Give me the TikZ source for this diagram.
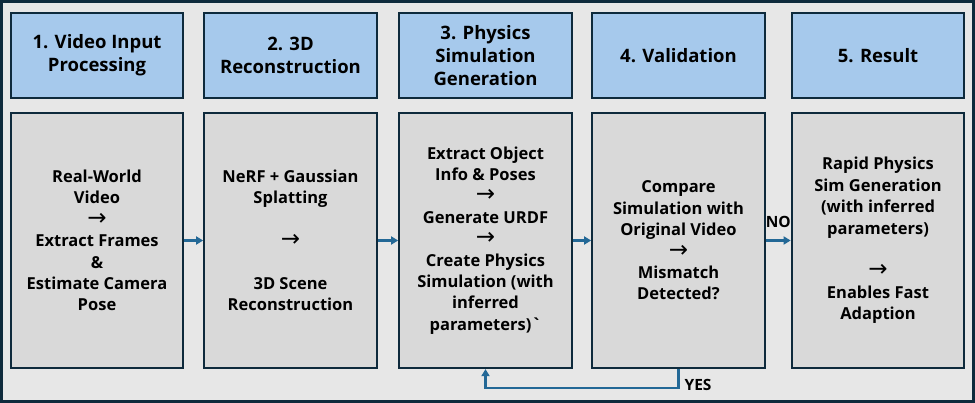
\documentclass[tikz,border=0pt]{standalone}
\usepackage{fontspec}
\setmainfont{Open Sans}
\newfontfamily\arrowfont{DejaVu Sans}
\usetikzlibrary{arrows.meta}
\definecolor{framecol}{RGB}{14,42,60}
\definecolor{headfill}{RGB}{166,201,236}
\definecolor{bodyfill}{RGB}{217,217,217}
\definecolor{backfill}{RGB}{231,231,231}
\definecolor{arrowcol}{RGB}{35,104,150}
\newcommand{\stepto}{{\arrowfont\mdseries\fontsize{23}{21.4}\selectfont →}}

\begin{document}
\begin{tikzpicture}[x=1pt,y=-1pt,
	head/.style={draw=framecol, line width=2.2pt, fill=headfill, minimum width=172.5pt, minimum height=85pt, align=center, font=\fontsize{18.5}{23}\selectfont\bfseries},
	body/.style={draw=framecol, line width=2.2pt, fill=bodyfill, minimum width=172.5pt, minimum height=255pt, align=center, font=\fontsize{16.5}{21.4}\selectfont\bfseries},
	flow/.style={draw=arrowcol, line width=2.2pt, -{Triangle[length=7pt,width=8pt]}},
	lbl/.style={font=\fontsize{15.5}{16}\selectfont\bfseries, inner sep=2pt}]
	\useasboundingbox (0, 0) rectangle (975, 403);
	\draw[draw=framecol, fill=backfill, line width=3pt] (1.5, 1.5) rectangle (973.5, 401.5);
	\node[head] (h1) at (97, 55.5) {1. Video Input\\Processing};
	\node[head] (h2) at (290.5, 55.5) {2. 3D\\Reconstruction};
	\node[head] (h3) at (485.5, 55.5) {3. Physics\\Simulation\\Generation};
	\node[head] (h4) at (678.5, 55.5) {4. Validation};
	\node[head] (h5) at (878, 55.5) {5. Result};
	\node[body] (b1) at (97, 240.5) {Real-World\\Video\\\stepto\\Extract Frames\\\&\\Estimate Camera\\Pose};
	\node[body] (b2) at (290.5, 240.5) {NeRF + Gaussian\\Splatting\\~\\\stepto\\~\\3D Scene\\Reconstruction};
	\node[body] (b3) at (485.5, 240.5) {Extract Object\\Info \& Poses\\\stepto\\Generate URDF\\\stepto\\Create Physics\\Simulation (with\\inferred\\parameters)\textasciigrave};
	\node[body] (b4) at (678.5, 240.5) {Compare\\Simulation with\\Original Video\\\stepto\\Mismatch\\Detected?};
	\node[body] (b5) at (878, 240.5) {Rapid Physics\\Sim Generation\\(with inferred\\parameters)\\~\\\stepto\\Enables Fast\\Adaption};
	\draw[flow] (b1) -- (b2);
	\draw[flow] (b2) -- (b3);
	\draw[flow] (b3) -- (b4);
	\draw[flow] (b4) -- node[above, lbl, yshift=10pt] {NO} (b5);
	\draw[flow] (b4.south) -- ++(0, 19) node[right, lbl, xshift=3pt, yshift=3pt] {YES} -| (b3.south);
\end{tikzpicture}
\end{document}
